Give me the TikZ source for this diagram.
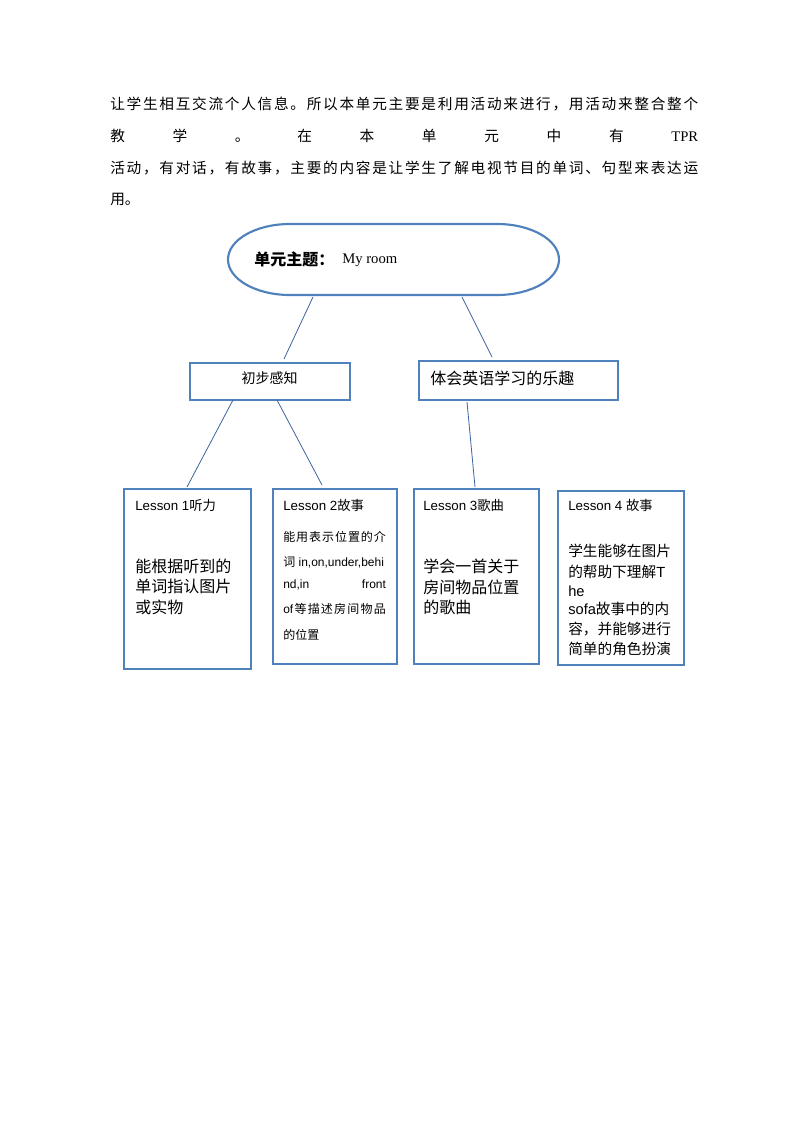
\documentclass[tikz,border=0pt]{standalone}
\usepackage{fontspec}
\setmainfont{Liberation Sans}
\newfontfamily\cjk{Noto Sans CJK SC}
\newfontfamily\serifl{Liberation Serif}
\newfontfamily\latf{Liberation Sans}
\definecolor{boxblue}{HTML}{4F81BD}
\definecolor{lineblue}{HTML}{3C64A0}
\def\spreadloop#1{\ifx\relax#1\unskip\else#1\hfil\expandafter\spreadloop\fi}
\newcommand\spreadbox[2]{\hbox to #1{\spreadloop#2\relax}}
\begin{document}
\begin{tikzpicture}[x=0.75pt,y=-0.75pt,
  box/.style={draw=boxblue,line width=1.6pt,rectangle,inner sep=0pt,anchor=north west},
  conn/.style={draw=lineblue,line width=0.6pt},
  txt/.style={inner sep=0pt,anchor=west,text=black},
  para/.style={txt,font=\cjk\fontsize{11}{13}\selectfont},
  ltitle/.style={txt,font=\fontsize{10}{12}\selectfont},
  lbody/.style={txt,font=\cjk\fontsize{12}{14}\selectfont},
  lsmall/.style={txt,font=\fontsize{9}{11}\selectfont},
  lmid/.style={txt,font=\cjk\fontsize{11}{13}\selectfont}]
\useasboundingbox[fill=white] (0,0) rectangle (794,1123);

% paragraph
\node[para] (p1) at (110,104) {\spreadbox{441pt}{让学生相互交流个人信息。所以本单元主要是利用活动来进行，用活动来整合整个}};
\node[para] (p2) at (110,136) {\spreadbox{441pt}{教学。在本单元中有{{\serifl TPR}}}};
\node[para] (p3) at (110,168) {\spreadbox{441pt}{活动，有对话，有故事，主要的内容是让学生了解电视节目的单词、句型来表达运}};
\node[para] (p4) at (110,199) {用。};

% theme stadium
\node[inner sep=0pt,minimum width=248.25pt,minimum height=53.25pt,anchor=north west] (theme) at (228,224) {};
\draw[draw=boxblue,line width=1.6pt] (290,224) -- (497,224) arc[start angle=-90,end angle=90,x radius=62,y radius=35.5] -- (290,295) arc[start angle=90,end angle=270,x radius=62,y radius=35.5] -- cycle;
\node[txt,font=\cjk\bfseries\fontsize{12}{14}\selectfont] (themea) at (254,259) {单元主题：};
\node[txt,font=\serifl\fontsize{11}{13}\selectfont] (themeb) at (342,260) {My room};

% second level
\node[box,minimum width=120pt,minimum height=27.75pt] (b1) at (189,362) {};
\node[txt,font=\cjk\fontsize{10.5}{12}\selectfont,anchor=center] (b1t) at (269.5,378) {初步感知};
\node[box,minimum width=149.25pt,minimum height=29.25pt] (b2) at (418,360) {};
\node[txt,font=\cjk\fontsize{12}{14}\selectfont] (b2t) at (430,378) {体会英语学习的乐趣};

% lessons
\node[box,minimum width=95.25pt,minimum height=135pt] (l1) at (123,488) {};
\node[box,minimum width=93pt,minimum height=131.25pt] (l2) at (272,488) {};
\node[box,minimum width=93.75pt,minimum height=131.25pt] (l3) at (413,488) {};
\node[box,minimum width=94.5pt,minimum height=130.5pt] (l4) at (557,490) {};

\node[ltitle] (l1t) at (135,505) {Lesson 1{\cjk 听力}};
\node[ltitle] (l2t) at (283,505) {Lesson 2{\cjk 故事}};
\node[ltitle] (l3t) at (423,505) {Lesson 3{\cjk 歌曲}};
\node[ltitle] (l4t) at (568,505) {Lesson 4 {\cjk 故事}};

\node[lbody] (l1a) at (135,566) {能根据听到的};
\node[lbody] (l1b) at (135,586) {单词指认图片};
\node[lbody] (l1c) at (135,607) {或实物};

\node[lsmall] (l2a) at (283,537) {\cjk\spreadbox{77pt}{能用表示位置的介}};
\node[lsmall] (l2b) at (283,562) {{\cjk 词} in,on,under,behi};
\node[lsmall] (l2c) at (283,585) {\hbox to 77pt{nd,in\hfil front}};
\node[lsmall] (l2d) at (283,609) {\cjk\spreadbox{77pt}{{{\latf of}}等描述房间物品}};
\node[lsmall] (l2e) at (283,635) {\cjk 的位置};

\node[lbody] (l3a) at (423,566) {学会一首关于};
\node[lbody] (l3b) at (423,587) {房间物品位置};
\node[lbody] (l3c) at (423,607) {的歌曲};

\node[lmid] (l4a) at (568,551) {学生能够在图片};
\node[lmid] (l4b) at (568,572) {的帮助下理解{\latf T}};
\node[txt,font=\fontsize{11}{13}\selectfont] (l4c) at (568,591) {he};
\node[lmid] (l4d) at (568,609) {{\latf sofa}故事中的内};
\node[lmid] (l4e) at (568,629) {容，并能够进行};
\node[lmid] (l4f) at (568,649) {简单的角色扮演};

% connectors
\coordinate (c1a) at (313,297); \coordinate (c1b) at (284,359);
\coordinate (c2a) at (462,297); \coordinate (c2b) at (492,357);
\coordinate (c3a) at (233,400); \coordinate (c3b) at (187,487);
\coordinate (c4a) at (277,400); \coordinate (c4b) at (322,485);
\coordinate (c5a) at (467,402); \coordinate (c5b) at (475,487);
\draw[conn] (c1a) -- (c1b);
\draw[conn] (c2a) -- (c2b);
\draw[conn] (c3a) -- (c3b);
\draw[conn] (c4a) -- (c4b);
\draw[conn] (c5a) -- (c5b);
\end{tikzpicture}
\end{document}
